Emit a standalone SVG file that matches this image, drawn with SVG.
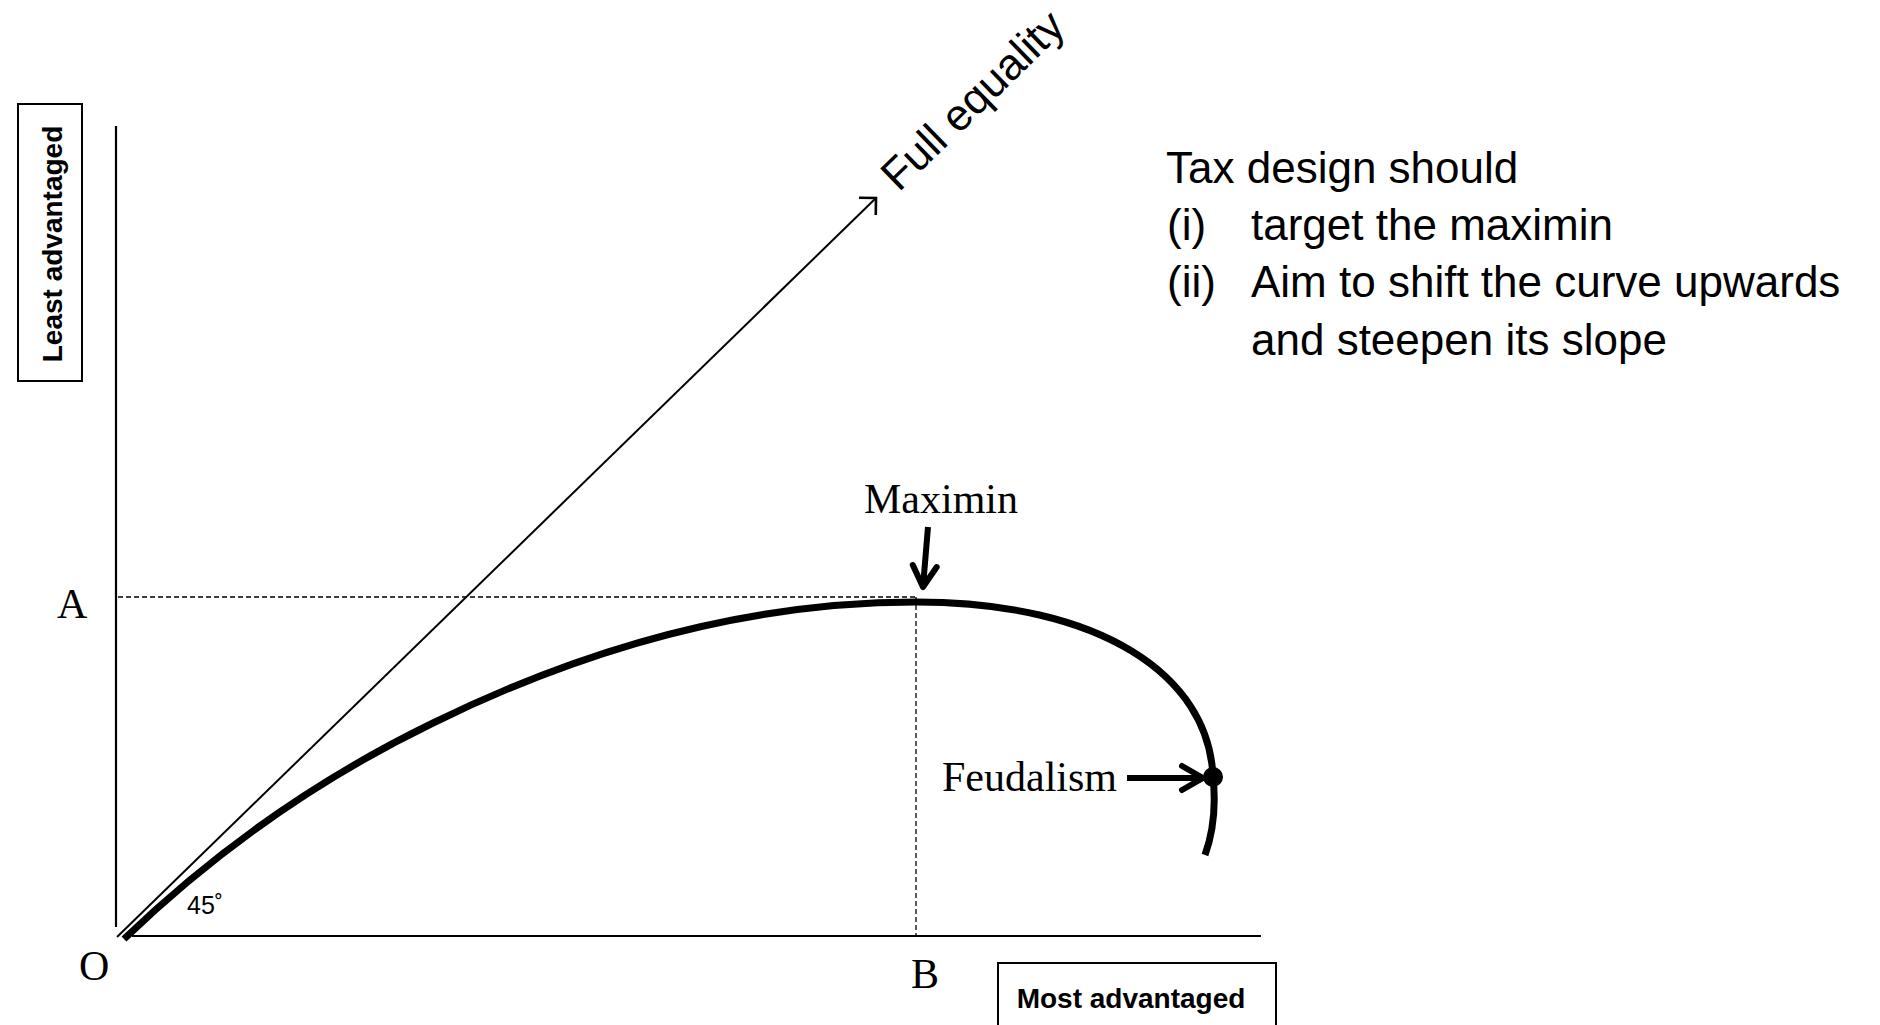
<svg xmlns="http://www.w3.org/2000/svg" width="1880" height="1025" viewBox="0 0 1880 1025">
  <style>
    .axis { stroke: #000; stroke-width: 2.2; fill: none; }
    .guide { stroke: #000; stroke-width: 1.3; stroke-dasharray: 5 3; fill: none; }
    .thin { stroke: #000; stroke-width: 2; fill: none; }
    .curve { stroke: #000; stroke-width: 7; fill: none; stroke-linecap: butt; }
    .pointer { stroke: #000; stroke-width: 6; fill: none; stroke-linecap: butt; }
    .serif { font-family: "Liberation Serif", "Times New Roman", serif; font-size: 42px; fill: #000; }
    .sans { font-family: "Liberation Sans", Arial, sans-serif; font-size: 44px; fill: #000; }
    .boxlabel { font-family: "Liberation Sans", Arial, sans-serif; font-size: 28px; font-weight: bold; fill: #000; }
    .box { fill: #fff; stroke: #000; stroke-width: 2; }
  </style>
  <defs>
    <marker id="openArrow" markerUnits="userSpaceOnUse" viewBox="-20 -20 30 40" markerWidth="30" markerHeight="40" refX="0" refY="0" orient="auto" overflow="visible">
      <path d="M-12,-12 L0,0 L-12,12" fill="none" stroke="#000" stroke-width="2.6" stroke-linejoin="miter"/>
    </marker>
    <marker id="chevron" markerUnits="userSpaceOnUse" viewBox="-30 -20 40 40" markerWidth="40" markerHeight="40" refX="0" refY="0" orient="auto" overflow="visible">
      <path d="M-21,-12 L0,0 L-21,12" fill="none" stroke="#000" stroke-width="6" stroke-linecap="round" stroke-linejoin="round"/>
    </marker>
  </defs>

  <rect width="1880" height="1025" fill="#fff"/>

  <g id="connectors">
    <!-- axes -->
    <line class="axis" x1="116" y1="126" x2="116" y2="927"/>
    <line class="axis" x1="132" y1="936" x2="1261" y2="936"/>
    <!-- guides -->
    <line class="guide" x1="118" y1="597" x2="916" y2="597"/>
    <line class="guide" x1="916" y1="597" x2="916" y2="935"/>
    <!-- 45 degree line -->
    <line class="thin" x1="117" y1="937" x2="876" y2="198" marker-end="url(#openArrow)"/>
    <!-- curve -->
    <path class="curve" d="M124,939 C227,840 330,773 433,723 C594,644 755,602 916,602 C1100,602 1209,675 1213,777 C1216,805 1214,830 1205,855"/>
    <!-- pointers -->
    <line class="pointer" x1="928" y1="527" x2="923" y2="587" marker-end="url(#chevron)"/>
    <line class="pointer" x1="1127" y1="778" x2="1203" y2="778" marker-end="url(#chevron)"/>
    <circle cx="1213" cy="777" r="10" fill="#000"/>
  </g>

  <g id="y-axis-label">
    <rect class="box" x="18" y="104" width="64" height="277"/>
    <text class="boxlabel" transform="translate(62,244) rotate(-90)" text-anchor="middle">Least advantaged</text>
  </g>

  <g id="x-axis-label">
    <rect class="box" x="998" y="963" width="278" height="80"/>
    <text class="boxlabel" x="1131" y="1008" text-anchor="middle">Most advantaged</text>
  </g>

  <g id="full-equality">
    <text class="sans" transform="translate(983,111) rotate(-44.2)" text-anchor="middle">Full equality</text>
  </g>

  <g id="point-labels">
    <text class="serif" x="57" y="618">A</text>
    <text class="serif" x="79" y="980">O</text>
    <text class="serif" x="911" y="988">B</text>
    <text font-family="Liberation Sans, Arial, sans-serif" font-size="25" x="187" y="914">45˚</text>
  </g>

  <g id="maximin">
    <text class="serif" x="864" y="513">Maximin</text>
  </g>

  <g id="feudalism">
    <text class="serif" x="942" y="791">Feudalism</text>
  </g>

  <g id="tax-note">
    <text class="sans" x="1166" y="183">Tax design should</text>
    <text class="sans" x="1167" y="240">(i)</text>
    <text class="sans" x="1251" y="240">target the maximin</text>
    <text class="sans" x="1167" y="297">(ii)</text>
    <text class="sans" x="1251" y="297">Aim to shift the curve upwards</text>
    <text class="sans" x="1251" y="355">and steepen its slope</text>
  </g>
</svg>
